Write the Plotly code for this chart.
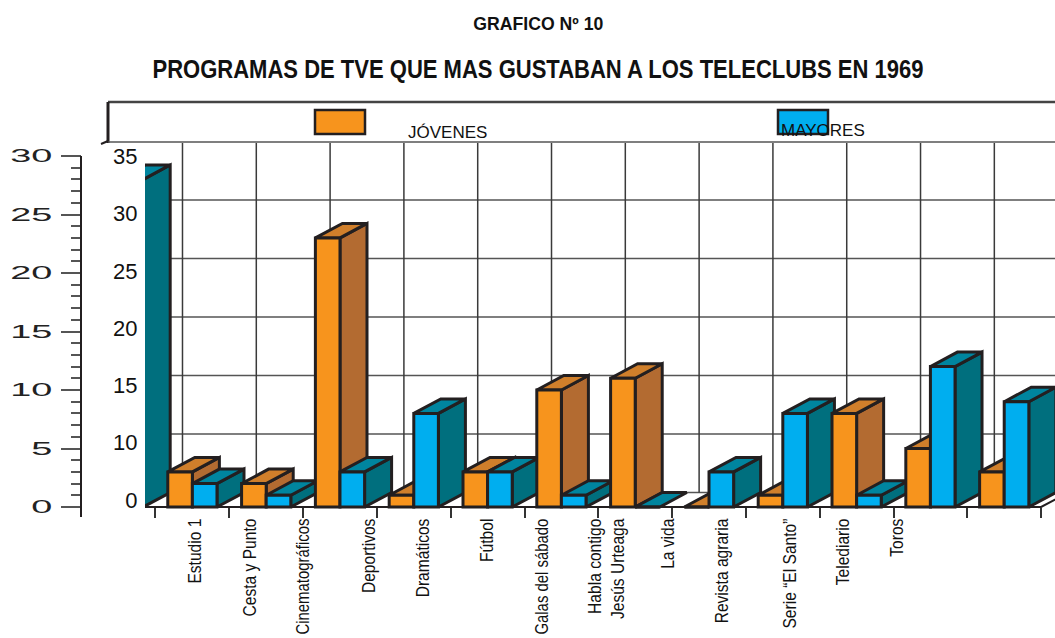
import plotly.graph_objects as go

# ---- data -----------------------------------------------------------------
GROUPS = list(range(13))
JOVENES = [0, 3, 2, 23, 1, 3, 10, 11, 0, 1, 8, 5, 3]
MAYORES = [28, 2, 1, 3, 8, 3, 1, 0, 3, 8, 1, 12, 9]
LABELS = ["Estudio 1", "Cesta y Punto", "Cinematográficos", "Deportivos", "Dramáticos", "Fútbol",
          "Galas del sábado", "Habla contigo", "Jesús Urteaga", "La vida", "Revista agraria",
          "Serie “El Santo”", "Telediario", "Toros"]
LABEL_POS = [1.035, 1.78, 2.50, 3.386, 4.12, 4.99, 5.73, 6.455, 6.77, 7.445, 8.18, 9.09, 9.815, 10.55]
OUTER_TICKS = [0, 5, 10, 15, 20, 25, 30]
INNER_LABELS = ["0", "10", "15", "20", "25", "30", "35"]
GRID_VALUES = [0, 5, 10, 15, 20, 25, 30]

# ---- style ----------------------------------------------------------------
W, H = 1055, 638
DARK = "#231f20"
GRID = "#555555"
ORANGE = ("#f7941d", "#b36b31", "#d07f2b")
BLUE = ("#00aeef", "#006f7e", "#00859f")
DX, DY = 0.366, 1.24      # depth of the 3-D effect in axis units
BW = 1 / 3
XR = [0.358, 12.688]
YR = [-10 / 11.7, 364 / 11.7]
Y2R = [-17 / 57.3, 357 / 57.3]
SANS = "Liberation Sans"
AXIS_Y = (638 - 507) / 638


def py(p):
    return 1 - p / H


fig = go.Figure()

# back wall
grid_x, grid_y = [], []
for v in GRID_VALUES:
    grid_x += [XR[0], XR[1] + 1, None]
    grid_y += [v + DY, v + DY, None]
fig.add_trace(go.Scatter(x=grid_x, y=grid_y, mode="lines", line=dict(color=GRID, width=1.3),
                         hoverinfo="skip", showlegend=False, zorder=0))
vx, vy = [], []
for g in GROUPS:
    vx += [g + 0.5 + DX, g + 0.5 + DX, None]
    vy += [DY, 30 + DY, None]
fig.add_trace(go.Scatter(x=vx, y=vy, mode="lines", line=dict(color="#3a3a3a", width=1.5),
                         hoverinfo="skip", showlegend=False, zorder=0))

# bars: side, top, then front, painted left to right
z = 1
for g in GROUPS:
    for vals, off, cols, name in ((JOVENES, -1 / 6, ORANGE, "JÓVENES"), (MAYORES, 1 / 6, BLUE, "MAYORES")):
        v = vals[g]
        l, r = g + off - BW / 2, g + off + BW / 2
        if v > 0:
            fig.add_trace(go.Scatter(x=[r, r + DX, r + DX, r, r], y=[0, DY, v + DY, v, 0], mode="lines",
                                     fill="toself", fillcolor=cols[1], line=dict(color=DARK, width=3),
                                     hoverinfo="skip", showlegend=False, zorder=z))
        fig.add_trace(go.Scatter(x=[l, r, r + DX, l + DX, l], y=[v, v, v + DY, v + DY, v], mode="lines",
                                 fill="toself", fillcolor=cols[2], line=dict(color=DARK, width=3),
                                 hoverinfo="skip", showlegend=False, zorder=z + 1))
        fig.add_trace(go.Bar(x=[g + off], y=[v], width=BW, name=name, showlegend=False,
                             marker=dict(color=cols[0], line=dict(color=DARK, width=3)), zorder=z + 2))
        z += 3

# floor front edge
fig.add_trace(go.Scatter(x=[XR[0], 12.5, 12.5 + DX], y=[0, 0, DY], mode="lines",
                         line=dict(color=DARK, width=2), hoverinfo="skip", showlegend=False, zorder=z))

# carriers for the two extra axes
fig.add_trace(go.Scatter(x=LABEL_POS, y=[0] * len(LABEL_POS), xaxis="x2", mode="markers", opacity=0,
                         hoverinfo="skip", showlegend=False))
fig.add_trace(go.Scatter(x=[1] * len(INNER_LABELS), y=list(range(len(INNER_LABELS))), yaxis="y2", mode="markers",
                         opacity=0, hoverinfo="skip", showlegend=False))

shapes = [
    # outer axis line
    dict(type="line", xref="paper", yref="y", x0=81 / W, x1=81 / W, y0=YR[0], y1=30, line=dict(color=DARK, width=2)),
    # legend frame
    dict(type="line", xref="paper", yref="paper", x0=108 / W, x1=1, y0=py(102), y1=py(102), line=dict(color="#444444", width=2.5)),
    dict(type="line", xref="paper", yref="paper", x0=108 / W, x1=108 / W, y0=py(102), y1=py(143), line=dict(color=DARK, width=3)),
    dict(type="line", xref="paper", yref="paper", x0=108 / W, x1=1, y0=py(142), y1=py(142), line=dict(color=GRID, width=1.5)),
    dict(type="line", xref="paper", yref="paper", x0=101 / W, x1=108 / W, y0=py(144), y1=py(141), line=dict(color=DARK, width=2)),
    # legend swatches
    dict(type="rect", xref="paper", yref="paper", x0=315 / W, x1=365 / W, y0=py(110), y1=py(134),
         fillcolor=ORANGE[0], line=dict(color=DARK, width=2.5)),
    dict(type="rect", xref="paper", yref="paper", x0=778 / W, x1=828 / W, y0=py(110), y1=py(134),
         fillcolor=BLUE[0], line=dict(color=DARK, width=2.5)),
]

annotations = [
    dict(text="GRAFICO Nº 10", xref="paper", yref="paper", x=538 / W, y=py(24), showarrow=False,
         font=dict(family=SANS, size=18, weight="bold", color="#111111"), xanchor="center", yanchor="middle"),
    dict(text="JÓVENES", xref="paper", yref="paper", x=447.5 / W, y=py(132.5), showarrow=False,
         font=dict(family=SANS, size=17, color="#111111"), xanchor="center", yanchor="middle"),
    dict(text="MAYORES", xref="paper", yref="paper", x=823 / W, y=py(130.5), showarrow=False,
         font=dict(family=SANS, size=17, color="#111111"), xanchor="center", yanchor="middle"),
]

fig.update_layout(
    width=W, height=H, margin=dict(l=0, r=0, t=0, b=0, autoexpand=False),
    paper_bgcolor="white", plot_bgcolor="white", barmode="overlay",
    title=dict(text="PROGRAMAS DE TVE QUE MAS GUSTABAN A LOS TELECLUBS EN 1969", x=538 / W, y=py(69),
               xanchor="center", yanchor="middle",
               font=dict(family=SANS, size=25, weight="bold", color="#111111")),
    shapes=shapes, annotations=annotations,
    xaxis=dict(domain=[145 / W, 1], range=XR, anchor="free", position=AXIS_Y, showgrid=False, zeroline=False,
               showline=False, tickmode="array", tickvals=[g + 0.5 for g in GROUPS], showticklabels=False,
               ticks="outside", ticklen=10, tickwidth=1.5, tickcolor="#333333"),
    xaxis2=dict(domain=[145 / W, 1], overlaying="x", range=XR, anchor="free", position=AXIS_Y, showgrid=False,
                zeroline=False, showline=False, tickmode="array", tickvals=LABEL_POS, ticktext=LABELS, tickangle=-90,
                ticks="outside", ticklen=3, tickcolor="rgba(0,0,0,0)", side="bottom",
                tickfont=dict(family=SANS, size=19, color="#111111")),
    yaxis=dict(domain=[(H - 517) / H, (H - 143) / H], range=YR, anchor="free", position=81 / W, showgrid=False,
               zeroline=False, showline=False, tickmode="array", tickvals=OUTER_TICKS, ticks="outside",
               ticklen=20, tickwidth=1.5, tickcolor="#555555", ticklabelstandoff=5,
               minor=dict(tickmode="array", tickvals=list(range(0, 31)), ticks="outside", ticklen=10,
                          tickwidth=1.5, tickcolor="#555555"),
               tickfont=dict(family=SANS, size=18, color="#222222")),
    yaxis2=dict(overlaying="y", range=Y2R, anchor="free", position=137.5 / W, showgrid=False, zeroline=False,
                showline=False, tickmode="array", tickvals=list(range(len(INNER_LABELS))), ticktext=INNER_LABELS,
                ticks="", tickfont=dict(family=SANS, size=22, color="#111111")),
    hovermode=False,
)

# The reference uses condensed and extended type that no installed font provides:
# stretch the real text elements to the reference's proportions once drawn.
POST = """
document.body.style.margin = '0';
function fit(sel, f, cap) {
  document.querySelectorAll(sel).forEach(function (t) {
    t.setAttribute('textLength', Math.min(t.getComputedTextLength() * f, cap));
    t.setAttribute('lengthAdjust', 'spacingAndGlyphs');
  });
}
fit('.gtitle', 771 / document.querySelector('.gtitle').getComputedTextLength(), 9999);
fit('.x2tick text', 0.82, 116);
fit('.ytick text', 2.1, 9999);
var top = document.querySelector('.annotation-text');
top.setAttribute('textLength', 130);
top.setAttribute('lengthAdjust', 'spacingAndGlyphs');
"""
fig.write_html("out.html", post_script=POST, config=dict(displayModeBar=False))
